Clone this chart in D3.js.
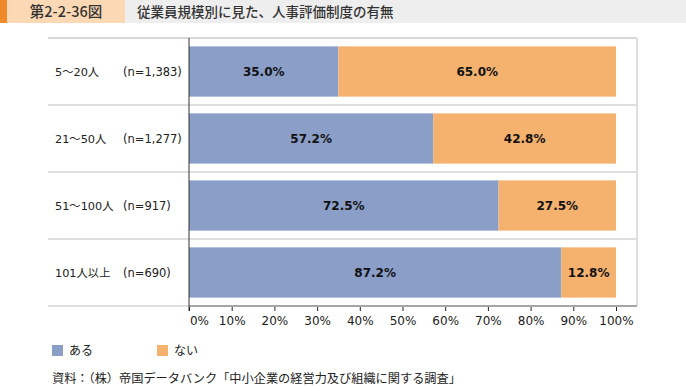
<!DOCTYPE html>
<html>
<head>
<meta charset="utf-8">
<script src="https://cdn.jsdelivr.net/npm/d3@7"></script>
<style>
  body { margin: 0; background: #fff; }
  svg { display: block; font-family: "DejaVu Sans", "Noto Sans CJK JP", sans-serif; }
</style>
</head>
<body>
<div id="chart"></div>
<script>
const categories = ["5〜20人", "21〜50人", "51〜100人", "101人以上"];
const counts = ["(n=1,383)", "(n=1,277)", "(n=917)", "(n=690)"];
const aru = [35.0, 57.2, 72.5, 87.2];
const nai = [65.0, 42.8, 27.5, 12.8];
const seriesNames = ["ある", "ない"];
const colors = ["#8a9ec8", "#f4b26e"];
const xTicks = [0, 10, 20, 30, 40, 50, 60, 70, 80, 90, 100];

const width = 686, height = 386;
const frame = { left: 48, right: 637, top: 38, bottom: 306 };
const plotLeft = 189, plotRight = 616;

const svg = d3.select("#chart").append("svg")
    .attr("width", width).attr("height", height);

// header
svg.append("rect").attr("x", 0).attr("y", 0).attr("width", width).attr("height", 23).attr("fill", "#eeeeee");
svg.append("rect").attr("x", 0).attr("y", 0).attr("width", 125).attr("height", 23).attr("fill", "#fcd9b4");
svg.append("rect").attr("x", 0).attr("y", 0).attr("width", 7).attr("height", 23).attr("fill", "#ef8a2a");
svg.append("text").attr("x", 66).attr("y", 16.5).attr("text-anchor", "middle")
    .style("font-family", "'Noto Sans CJK JP', sans-serif").style("font-size", "14.5px").style("font-weight", "500")
    .attr("fill", "#333").text("第2-2-36図");
svg.append("text").attr("x", 137).attr("y", 16.5)
    .style("font-family", "'Noto Sans CJK JP', sans-serif").style("font-size", "13.5px").style("font-weight", "500")
    .attr("fill", "#333").text("従業員規模別に見た、人事評価制度の有無");

const x = d3.scaleLinear().domain([0, 100]).range([plotLeft, plotRight]);
const y = d3.scaleBand().domain(categories).range([frame.top, frame.bottom])
    .paddingInner(0.25).paddingOuter(0.125);

// row separators
const sepY = categories.map(c => y(c) - y.step() * y.paddingInner() / 2).concat([frame.top]);
svg.append("g").selectAll("line").data(sepY).join("line")
    .attr("x1", frame.left).attr("x2", frame.right)
    .attr("y1", d => d).attr("y2", d => d)
    .attr("stroke", "#d6d6d6").attr("stroke-width", 1.5);
svg.append("line").attr("x1", frame.right).attr("x2", frame.right)
    .attr("y1", frame.top).attr("y2", frame.bottom)
    .attr("stroke", "#d6d6d6").attr("stroke-width", 1.5);
svg.append("line").attr("x1", frame.left).attr("x2", plotLeft)
    .attr("y1", frame.bottom).attr("y2", frame.bottom)
    .attr("stroke", "#d6d6d6").attr("stroke-width", 1.5);

// bars
const rows = categories.map((c, i) => ({ cat: c, vals: [aru[i], nai[i]] }));
const g = svg.append("g");
rows.forEach(r => {
    let acc = 0;
    r.vals.forEach((v, k) => {
        g.append("rect")
            .attr("x", x(acc)).attr("y", y(r.cat))
            .attr("width", x(acc + v) - x(acc)).attr("height", y.bandwidth())
            .attr("fill", colors[k]);
        g.append("text")
            .attr("x", (x(acc) + x(acc + v)) / 2).attr("y", y(r.cat) + y.bandwidth() / 2 + 4.5)
            .attr("text-anchor", "middle").style("font-size", "12px").style("font-weight", "bold")
            .attr("fill", "#111").text(v.toFixed(1) + "%");
        acc += v;
    });
});

// category labels
svg.append("g").selectAll("text").data(categories).join("text")
    .attr("x", 55).attr("y", d => y(d) + y.bandwidth() / 2 + 4.5)
    .style("font-size", "11.3px").attr("fill", "#222").text(d => d);
svg.append("g").selectAll("text").data(counts).join("text")
    .attr("x", 123).attr("y", (d, i) => y(categories[i]) + y.bandwidth() / 2 + 4.5)
    .style("font-size", "11.5px").attr("fill", "#222").text(d => d);

// x axis
const gx = svg.append("g").attr("transform", `translate(0,${frame.bottom})`)
    .call(d3.axisBottom(x).tickValues(xTicks).tickFormat(d => d + "%").tickSize(5).tickSizeOuter(0));
gx.select(".domain").remove();
gx.append("line").attr("x1", plotLeft).attr("x2", frame.right).attr("stroke", "#a6a6a6").attr("stroke-width", 2);
gx.selectAll(".tick line").attr("stroke", "#222").attr("y1", 1);
gx.selectAll(".tick text").attr("y", 10).style("font-size", "12px").style("font-family", "'DejaVu Sans', sans-serif").attr("fill", "#222")
    .attr("dx", d => d === 0 ? 10 : 0);
gx.selectAll(".tick").raise();

// y axis line
svg.append("line").attr("x1", plotLeft).attr("x2", plotLeft)
    .attr("y1", frame.top).attr("y2", frame.bottom + 5)
    .attr("stroke", "#333").attr("stroke-width", 1);

// legend
const legX = [52, 157];
const leg = svg.append("g").selectAll("g").data(seriesNames).join("g")
    .attr("transform", (d, i) => `translate(${legX[i]},345)`);
leg.append("rect").attr("width", 11).attr("height", 11).attr("fill", (d, i) => colors[i]);
leg.append("text").attr("x", 17).attr("y", 10).style("font-size", "12px")
    .style("font-family", "'Noto Sans CJK JP', sans-serif").attr("fill", "#222").text(d => d);

// source
svg.append("text").attr("x", 52).attr("y", 383)
    .style("font-family", "'Noto Sans CJK JP', sans-serif").style("font-size", "12.2px").attr("fill", "#222")
    .text("資料：（株）帝国データバンク「中小企業の経営力及び組織に関する調査」");
</script>
</body>
</html>
